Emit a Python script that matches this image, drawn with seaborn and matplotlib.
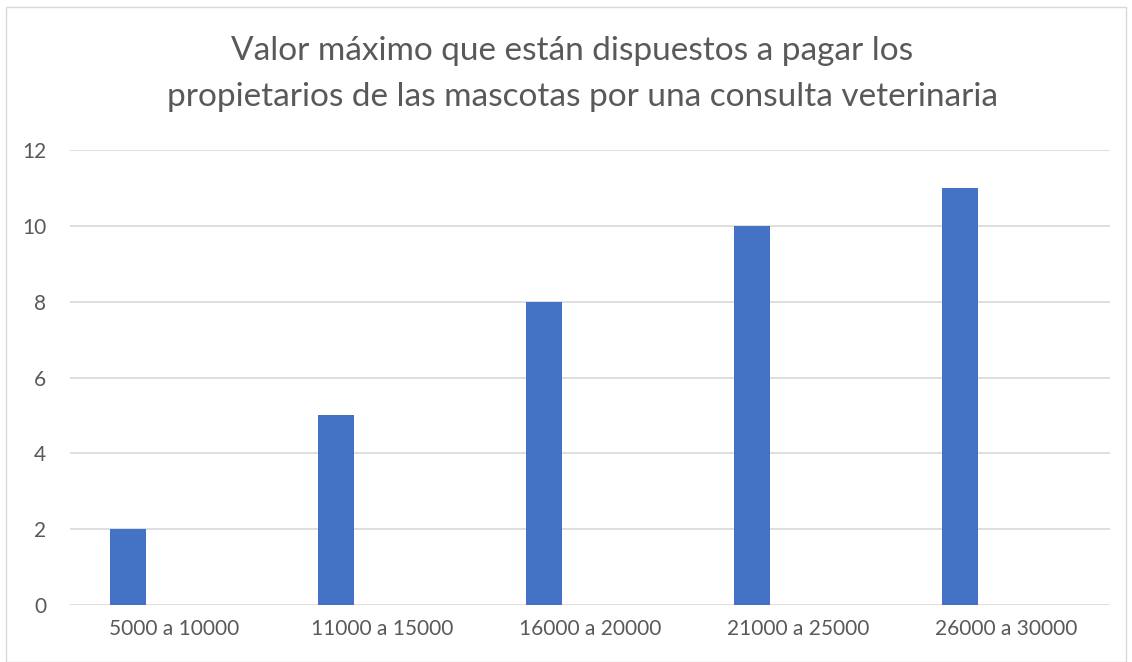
import numpy as np
import pandas as pd
import matplotlib
matplotlib.use("Agg")
import matplotlib.pyplot as plt
import seaborn as sns
from matplotlib.patches import Rectangle

# data
categories = ["5000 a 10000", "11000 a 15000", "16000 a 20000", "21000 a 25000", "26000 a 30000"]
values = [2, 5, 8, 10, 11]
# the original chart keeps empty slots next to each bar (unused series)
series = ["Serie1", "Serie2", "Serie3"]
y_ticks = [0, 2, 4, 6, 8, 10, 12]
title_lines = ["Valor máximo que están dispuestos a pagar los",
               "propietarios de las mascotas por una consulta veterinaria"]

rows = []
for cat, val in zip(categories, values):
    rows.append({"rango": cat, "serie": series[0], "n": val})
    for s in series[1:]:
        rows.append({"rango": cat, "serie": s, "n": 0})
df = pd.DataFrame(rows)

sns.set_style("white")
plt.rcParams["font.family"] = ["Lato", "DejaVu Sans"]

fig = plt.figure(figsize=(11.32, 6.62), dpi=100)
ax = fig.add_axes([0.0618, 0.0861, 0.9188, 0.6873])

sns.barplot(data=df, x="rango", y="n", hue="serie", hue_order=series,
            order=categories, palette=["#4472C4", "#ED7D31", "#A5A5A5"],
            saturation=1, width=0.6645, gap=0.219, linewidth=0,
            legend=False, ax=ax)

ax.set_ylim(0, 12)
ax.set_xlim(-0.5, len(categories) - 0.5)
ax.set_yticks(y_ticks)
ax.yaxis.grid(True, color="#d9d9d9", linewidth=1.2)
ax.set_axisbelow(True)
for sp in ax.spines.values():
    sp.set_visible(False)
ax.tick_params(axis="both", length=0, labelsize=15, colors="#595959")
ax.tick_params(axis="y", pad=17)
ax.tick_params(axis="x", pad=10)
ax.set_xlabel("")
ax.set_ylabel("")

fig.text(0.505, 0.923, title_lines[0], ha="center", va="center", fontsize=24, color="#595959")
fig.text(0.515, 0.853, title_lines[1], ha="center", va="center", fontsize=24, color="#595959")

fig.patches.append(Rectangle((0.005, 0.0), 0.99, 0.99, transform=fig.transFigure,
                             fill=False, edgecolor="#d9d9d9", linewidth=1))

fig.savefig("out.png", dpi=100)
